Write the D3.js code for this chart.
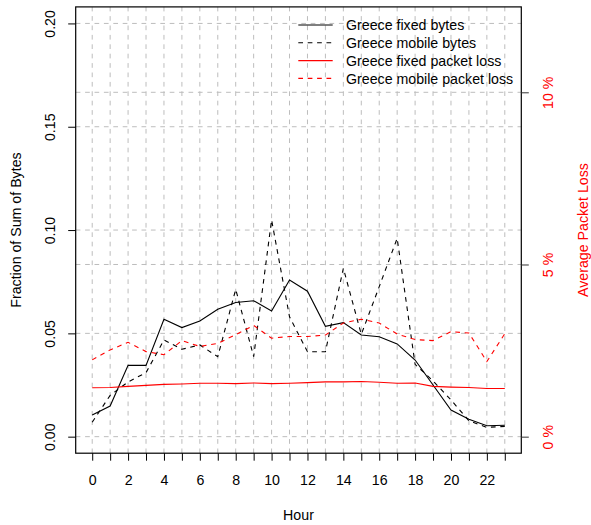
<!DOCTYPE html>
<html>
<head>
<meta charset="utf-8">
<script src="https://cdn.jsdelivr.net/npm/d3@7"></script>
<style>
  html, body { margin: 0; padding: 0; background: #ffffff; }
  svg { display: block; }
  text { font-family: "Liberation Sans", Arial, Helvetica, sans-serif; }
</style>
</head>
<body>
<div id="chart"></div>
<script>
// ---------- data ----------
const hours = [0,1,2,3,4,5,6,7,8,9,10,11,12,13,14,15,16,17,18,19,20,21,22,23];
const fixedBytes  = [0.0105,0.0148,0.0345,0.0345,0.0568,0.0528,0.0560,0.0617,0.0649,0.0658,0.0608,0.0758,
                     0.0704,0.0534,0.0552,0.0492,0.0484,0.0449,0.0371,0.0250,0.0129,0.0084,0.0053,0.0055];
const mobileBytes = [0.0070,0.0200,0.0265,0.0310,0.0468,0.0423,0.0444,0.0387,0.0713,0.0387,0.1049,0.0580,
                     0.0411,0.0411,0.0815,0.0495,0.0726,0.0960,0.0350,0.0270,0.0178,0.0077,0.0045,0.0050];
const fixedLoss   = [1.42,1.43,1.46,1.49,1.52,1.53,1.55,1.55,1.54,1.56,1.54,1.55,
                     1.57,1.59,1.59,1.60,1.58,1.55,1.56,1.46,1.44,1.43,1.40,1.40];
const mobileLoss  = [2.23,2.52,2.74,2.47,2.38,2.79,2.62,2.71,2.96,3.23,2.86,2.91,
                     2.91,2.95,3.30,3.41,3.30,2.98,2.82,2.79,3.05,3.01,2.18,2.99];
const leftTicks  = [0, 0.05, 0.10, 0.15, 0.20];
const rightTicks = [0, 5, 10];
const legendLabels = ["Greece fixed bytes","Greece mobile bytes","Greece fixed packet loss","Greece mobile packet loss"];
const xLabel = "Hour";
const yLabelLeft = "Fraction of Sum of Bytes";
const yLabelRight = "Average Packet Loss";

// ---------- layout ----------
const W = 591, H = 525;
const box = {l: 75.7, r: 521.3, t: 6.9, b: 453.2};
const FS = 14.2;
const GRID = "#bdbdbd";
const DASH = "4.7,4.7";

const svg = d3.select("#chart").append("svg").attr("width", W).attr("height", H);

const x = d3.scaleLinear().domain([-0.92, 23.92]).range([box.l, box.r]);
const y = d3.scaleLinear().domain([-0.008, 0.208]).range([box.b, box.t]);
const yR = d3.scaleLinear().domain([-0.48, 12.48]).range([box.b, box.t]);

// ---------- grid ----------
const grid = svg.append("g").attr("stroke", GRID).attr("stroke-width", 1).attr("stroke-dasharray", "4.7,4.7").attr("fill","none");
hours.forEach(h => grid.append("line").attr("x1", x(h)).attr("x2", x(h)).attr("y1", box.b).attr("y2", box.t));
leftTicks.forEach(v => grid.append("line").attr("x1", box.l).attr("x2", box.r).attr("y1", y(v)).attr("y2", y(v)));
rightTicks.filter(v => v > 0).forEach(v => grid.append("line").attr("x1", box.l).attr("x2", box.r).attr("y1", yR(v)).attr("y2", yR(v)));

// ---------- lines ----------
const lineL = d3.line().x((d,i) => x(hours[i])).y(d => y(d));
const lineR = d3.line().x((d,i) => x(hours[i])).y(d => yR(d));
const series = [
  {data: fixedBytes,  gen: lineL, color: "#000000", dash: null},
  {data: mobileBytes, gen: lineL, color: "#000000", dash: DASH},
  {data: fixedLoss,   gen: lineR, color: "#ff0000", dash: null},
  {data: mobileLoss,  gen: lineR, color: "#ff0000", dash: DASH}
];
series.forEach(s => {
  svg.append("path").attr("d", s.gen(s.data)).attr("fill", "none")
    .attr("stroke", s.color).attr("stroke-width", 1.1)
    .attr("stroke-dasharray", s.dash);
});

// ---------- box ----------
svg.append("rect").attr("x", box.l).attr("y", box.t).attr("width", box.r - box.l).attr("height", box.b - box.t)
  .attr("fill", "none").attr("stroke", "#000").attr("stroke-width", 1.2);

// ---------- axes ----------
const TICK = 7.5;
const xAxis = svg.append("g").attr("transform", `translate(0,${box.b})`)
  .call(d3.axisBottom(x).tickValues(hours).tickSize(TICK).tickFormat(h => h % 2 === 0 ? String(h) : ""));
xAxis.select(".domain").remove();
xAxis.selectAll(".tick line").attr("stroke", "#000");
xAxis.selectAll(".tick text").attr("y", 485.3 - box.b).attr("dy", null)
  .attr("font-size", FS).attr("fill", "#000").style("font-family", '"Liberation Sans", Arial, sans-serif');

const yAxis = svg.append("g").attr("transform", `translate(${box.l},0)`)
  .call(d3.axisLeft(y).tickValues(leftTicks).tickSize(TICK).tickFormat(d3.format(".2f")));
yAxis.select(".domain").remove();
yAxis.selectAll(".tick line").attr("stroke", "#000");
yAxis.selectAll(".tick text").attr("x", null).attr("dy", null).attr("y", null)
  .attr("text-anchor", "middle").attr("transform", `translate(${55.4 - box.l},0) rotate(-90)`)
  .attr("font-size", FS).attr("fill", "#000").style("font-family", '"Liberation Sans", Arial, sans-serif');

const yAxisR = svg.append("g").attr("transform", `translate(${box.r},0)`)
  .call(d3.axisRight(yR).tickValues(rightTicks).tickSize(TICK).tickFormat(v => v + " %"));
yAxisR.select(".domain").remove();
yAxisR.selectAll(".tick line").attr("stroke", "#333");
yAxisR.selectAll(".tick text").attr("x", null).attr("dy", null).attr("y", null)
  .attr("text-anchor", "middle").attr("transform", `translate(${552.6 - box.r},0) rotate(-90)`)
  .attr("font-size", FS).attr("fill", "#ff0000").style("font-family", '"Liberation Sans", Arial, sans-serif');

// ---------- axis titles ----------
const cy = (box.t + box.b) / 2;
svg.append("text").attr("x", (box.l + box.r) / 2).attr("y", 520.2).attr("text-anchor", "middle")
  .attr("font-size", FS).attr("fill", "#000").text(xLabel);
svg.append("text").attr("transform", `translate(20.5,${cy}) rotate(-90)`).attr("text-anchor", "middle")
  .attr("font-size", FS).attr("fill", "#000").text(yLabelLeft);
svg.append("text").attr("transform", `translate(587.5,${cy}) rotate(-90)`).attr("text-anchor", "middle")
  .attr("font-size", FS).attr("fill", "#ff0000").text(yLabelRight);

// ---------- legend ----------
const leg = svg.append("g");
legendLabels.forEach((lab, i) => {
  const ly = 25 + i * 17.8;
  const s = series[i];
  leg.append("line").attr("x1", 298.3).attr("x2", 332.7).attr("y1", ly).attr("y2", ly)
    .attr("stroke", s.color).attr("stroke-width", 1.1).attr("stroke-dasharray", s.dash);
  leg.append("text").attr("x", 346).attr("y", ly + 5.1).attr("font-size", FS).attr("fill", "#000").text(lab);
});
</script>
</body>
</html>
